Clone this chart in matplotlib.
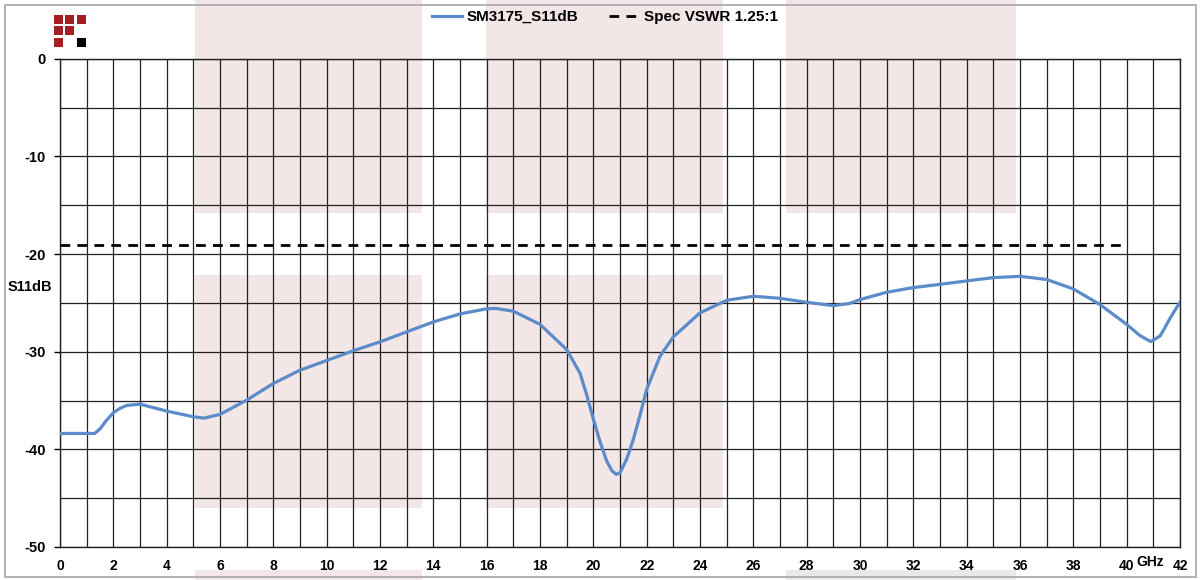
import numpy as np
import matplotlib
matplotlib.use("Agg")
from matplotlib import pyplot as plt
from matplotlib.patches import Rectangle
from matplotlib.ticker import MultipleLocator

plt.rcParams['font.family'] = ['Liberation Sans', 'DejaVu Sans']
plt.rcParams['font.weight'] = 'bold'
plt.rcParams['axes.unicode_minus'] = False

# Mesure S11 (GHz, dB)
freq_ghz = [0, 1.3, 1.5, 1.75, 2, 2.25, 2.5, 3, 3.75, 4, 5, 5.4, 6, 7, 8, 9, 10,
            11, 12, 13, 14, 15, 16, 16.35, 17, 18, 19, 19.5, 19.75, 20, 20.25,
            20.5, 20.7, 20.86, 21, 21.25, 21.5, 21.75, 22, 22.5, 23, 24, 25, 26,
            27, 28, 29, 29.6, 30, 31, 32, 33, 34, 35, 36, 37, 38, 39, 40, 40.5,
            40.9, 41.25, 41.4, 41.6, 41.8, 42]
s11_db = [-38.37, -38.37, -37.9, -37.0, -36.25, -35.8, -35.5, -35.37, -35.9,
          -36.08, -36.66, -36.8, -36.42, -34.96, -33.25, -31.89, -30.9, -29.9,
          -28.99, -27.97, -26.95, -26.13, -25.6, -25.57, -25.85, -27.2, -29.78,
          -32.2, -34.4, -36.9, -39.2, -41.2, -42.2, -42.56, -42.4, -41.0, -38.98,
          -36.5, -33.86, -30.46, -28.48, -26.02, -24.73, -24.32, -24.53, -24.94,
          -25.28, -25.07, -24.66, -23.91, -23.43, -23.1, -22.75, -22.41, -22.28,
          -22.6, -23.57, -25.17, -27.2, -28.35, -28.96, -28.4, -27.7, -26.7,
          -25.8, -24.94]

# Gabarit VSWR 1.25:1 -> RL = 20 log10((1.25+1)/(1.25-1))
vswr = 1.25
spec_db = -20 * np.log10((vswr + 1) / (vswr - 1))
spec_freq = [0, 40]

W, H = 1201, 580
fig = plt.figure(figsize=(W / 100, H / 100), dpi=100)

# fond : blocs roses du filigrane (en pixels)
pink = "#f3e6e6"
blocks = [(195, 0, 227, 213, pink), (195, 275, 227, 233, pink), (195, 570, 227, 10, pink),
          (486, 0, 237, 213, pink), (486, 275, 237, 233, pink),
          (786, 0, 230, 213, pink), (786, 570, 230, 10, "#e9e9e9")]
for x, y, w, h, c in blocks:
    fig.patches.append(Rectangle((x / W, 1 - (y + h) / H), w / W, h / H,
                                 transform=fig.transFigure, facecolor=c,
                                 edgecolor="none", zorder=-2))

# cadre gris
fig.patches.append(Rectangle((5 / W, 3 / H), 1191 / W, 572 / H, transform=fig.transFigure,
                             facecolor="none", edgecolor="#a6a6a6", lw=1.2, zorder=5))

# logo
for col, row, c in [(0, 0, "#a31f24"), (1, 0, "#a31f24"), (2, 0, "#a31f24"),
                    (0, 1, "#a31f24"), (1, 1, "#a31f24"), (0, 2, "#a31f24"), (2, 2, "black")]:
    x0, y0 = 54 + col * 11.3, 15 + row * 11.3
    fig.patches.append(Rectangle((x0 / W, 1 - (y0 + 9) / H), 9 / W, 9 / H,
                                 transform=fig.transFigure, facecolor=c,
                                 edgecolor="none", zorder=3))

ax = fig.add_axes([60 / W, 1 - 547 / H, 1120 / W, (547 - 58.8) / H])
ax.set_facecolor("none")

ax.plot(freq_ghz, s11_db, color="#5b8bc8", lw=2.3, label="SM3175_S11dB", zorder=4)
ax.plot(spec_freq, [spec_db, spec_db], color="black", lw=2.0, dashes=(3.5, 2.6),
        label="Spec VSWR 1.25:1", zorder=4)

ax.set_xlim(0, 42)
ax.set_ylim(-50, 0)
ax.xaxis.set_major_locator(MultipleLocator(2))
ax.xaxis.set_minor_locator(MultipleLocator(1))
ax.yaxis.set_major_locator(MultipleLocator(10))
ax.yaxis.set_minor_locator(MultipleLocator(5))
ax.grid(which="both", color="#222222", lw=0.9)
ax.set_axisbelow(True)
ax.tick_params(axis="x", which="both", length=0, pad=9, labelsize=10)
ax.tick_params(axis="y", which="major", length=4, width=1, pad=6, labelsize=10.5)
ax.tick_params(axis="y", which="minor", length=0)
for s in ax.spines.values():
    s.set_color("#222222")
    s.set_linewidth(1)

fig.text(8 / W, 1 - 287 / H, "S11dB", ha="left", va="center", fontsize=10.5, fontweight="bold")
fig.text(1150 / W, 1 - 562 / H, "GHz", ha="center", va="center", fontsize=10, fontweight="bold")

ax.legend(loc="center", bbox_to_anchor=(605 / W, 1 - 17 / H), bbox_transform=fig.transFigure,
          ncol=2, frameon=False, fontsize=11, handlelength=2.0, handletextpad=0.3,
          columnspacing=2.0)

fig.savefig("out.png", dpi=100)
